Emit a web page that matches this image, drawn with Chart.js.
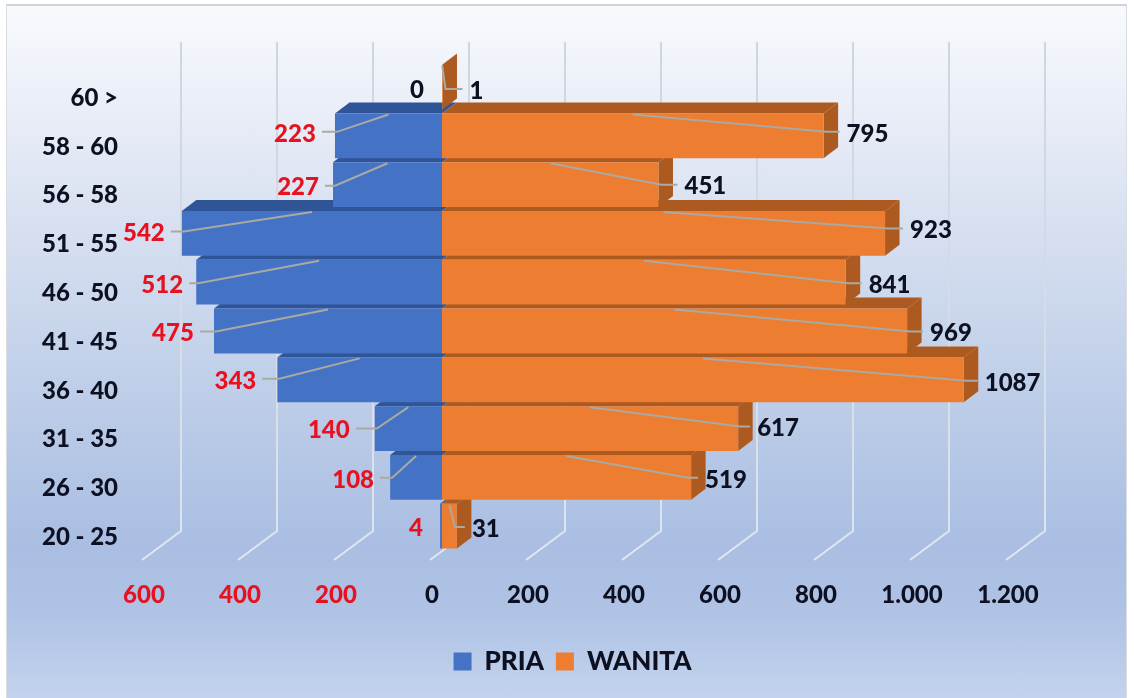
<!DOCTYPE html>
<html><head><meta charset="utf-8">
<style>
html,body{margin:0;padding:0;background:#fff;width:1134px;height:698px;overflow:hidden}
#panel{position:absolute;left:6px;top:4px;width:1121px;height:694px;border:1px solid #d9dde2;border-top:2px solid #cfd4d9;border-bottom:0;box-sizing:border-box;
background:linear-gradient(180deg,#f8fafd 0%,#e6ebf6 18%,#c9d6ec 45%,#a9bee2 78%,#b0c3e5 88%,#c3d3ed 100%)}
canvas{position:absolute;left:0;top:0}
</style>
<script src="https://cdn.jsdelivr.net/npm/chart.js@4"></script>
</head><body><div id="panel"></div><canvas id="c" width="1134" height="698"></canvas>
<script>
const categories = ['60 >','58 - 60','56 - 58','51 - 55','46 - 50','41 - 45','36 - 40','31 - 35','26 - 30','20 - 25'];
const pria = [0,223,227,542,512,475,343,140,108,4];
const wanita = [1,795,451,923,841,969,1087,617,519,31];
const axisTicks = [-600,-400,-200,0,200,400,600,800,1000,1200];
// label nudges (px) relative to the default label anchor
const priaNudge = [[0,3],[-1,-3],[4,2],[1,-1],[5,2],[-2,1.5],[-3,0],[-7,1],[2,1.5],[15,1]];
const wanitaNudge = [[4,3],[0,-3],[3,1],[2,-4],[0,2],[0,1.5],[-2,2],[-4,-1],[-9,1.5],[-8,2]];

const DX=14.5, DY=11, FONT='Lato, sans-serif', W='900';
const RED='#e8111f', INK='#0d1020', LEAD='#aaa9a2';
function poly(ctx,pts,fill){ctx.fillStyle=fill;ctx.beginPath();pts.forEach((p,i)=>i?ctx.lineTo(p[0],p[1]):ctx.moveTo(p[0],p[1]));ctx.closePath();ctx.fill();}

const scene={id:'scene',
 beforeDatasetsDraw(chart){
  const ctx=chart.ctx,x=chart.scales.x;
  ctx.save();
  axisTicks.forEach(t=>{
    const px=x.getPixelForValue(t);
    const g=ctx.createLinearGradient(0,42,0,531);
    g.addColorStop(0,'#ccd1d8');g.addColorStop(.45,'#d4dae4');g.addColorStop(1,'#e3e7ef');
    ctx.strokeStyle=g;ctx.lineWidth=1.8;
    ctx.beginPath();ctx.moveTo(px+27,42);ctx.lineTo(px+27,531);ctx.lineTo(px-12,560);ctx.stroke();
  });
  const m0=chart.getDatasetMeta(0).data,m1=chart.getDatasetMeta(1).data;
  for(let i=categories.length-1;i>=0;i--){
    [[m0[i],'#2f5597'],[m1[i],'#ad5a20']].forEach(([b,col],k)=>{
      const p=b.getProps(['x','y','height','base']);
      const t=p.y-p.height/2,bt=p.y+p.height/2;
      if(Math.abs(p.x-p.base)<.1) return;
      poly(ctx,[[p.x,t],[p.x+DX,t-DY],[p.base+DX,t-DY],[p.base,t]],col);
      if(k===1) poly(ctx,[[p.x,t],[p.x+DX,t-DY],[p.x+DX,bt-DY],[p.x,bt]],col);
    });
  }
  ctx.restore();
 },
 afterDatasetsDraw(chart){
  const ctx=chart.ctx,x=chart.scales.x,y=chart.scales.y,z=x.getPixelForValue(0);
  ctx.save();
  ctx.textBaseline='middle';ctx.font=W+' 24px '+FONT;
  categories.forEach((c,i)=>{
    const cy=y.getPixelForValue(i),h=chart.getDatasetMeta(0).data[i].height,top=cy-h/2;
    const px=x.getPixelForValue(-pria[i]),ly=cy+1+priaNudge[i][1],lx=px-39+priaNudge[i][0];
    ctx.fillStyle=pria[i]?RED:INK;ctx.textAlign='center';
    ctx.fillText(pria[i],pria[i]?lx:417,pria[i]?ly:cy+3);
    if(pria[i]>4){
      ctx.strokeStyle=LEAD;ctx.lineWidth=2;ctx.beginPath();
      ctx.moveTo(lx+27,ly-2);ctx.lineTo(Math.max(lx+34,px+2),ly-2);ctx.lineTo((px+z)/2,top+1);ctx.stroke();
    }
    const wx=x.getPixelForValue(wanita[i]),wy=cy+1+wanitaNudge[i][1],tx=wx+23+wanitaNudge[i][0];
    ctx.fillStyle=INK;ctx.textAlign='left';
    ctx.fillText(wanita[i],tx,wy);
    ctx.strokeStyle=LEAD;ctx.lineWidth=2;ctx.beginPath();
    ctx.moveTo(tx-7,wy-2);ctx.lineTo(Math.min(tx-17,wx+3),wy-2);ctx.lineTo((wx+z)/2,top+1);ctx.stroke();
  });
  ctx.restore();
 }};

const pxPerUnit=0.48, xMax=1200+116/pxPerUnit;
new Chart(document.getElementById('c'),{
 type:'bar',
 data:{labels:categories,datasets:[
  {label:'PRIA',data:pria.map(v=>-v),backgroundColor:'#4472c4',borderWidth:0},
  {label:'WANITA',data:wanita,backgroundColor:'#ed7d31',borderWidth:0}]},
 plugins:[scene],
 options:{
  indexAxis:'y',responsive:false,animation:false,
  categoryPercentage:1,barPercentage:.918,
  layout:{padding:{top:62.7,left:11,right:0,bottom:13.5}},
  plugins:{tooltip:{enabled:false},title:{display:false},
   legend:{position:'bottom',labels:{boxWidth:18,boxHeight:18,padding:12,color:INK,font:{family:FONT,weight:W,size:26}}}},
  scales:{
   x:{stacked:true,min:-600,max:xMax,afterBuildTicks(s){s.ticks=axisTicks.map(v=>({value:v}));},
      afterFit(s){s.height=86;},
      grid:{display:false},border:{display:false},
      ticks:{autoSkip:false,maxRotation:0,padding:22.6,labelOffset:-10,
        color:c=>c.tick.value<0?RED:INK,font:{family:FONT,weight:W,size:24},
        callback:v=>Math.abs(v).toLocaleString('de-DE')}},
   y:{stacked:true,afterFit(s){s.width=143;},
      grid:{display:false},border:{display:false},
      ticks:{autoSkip:false,padding:28,labelOffset:11,color:INK,font:{family:FONT,weight:W,size:24}}}
  }
 }
});
</script></body></html>
